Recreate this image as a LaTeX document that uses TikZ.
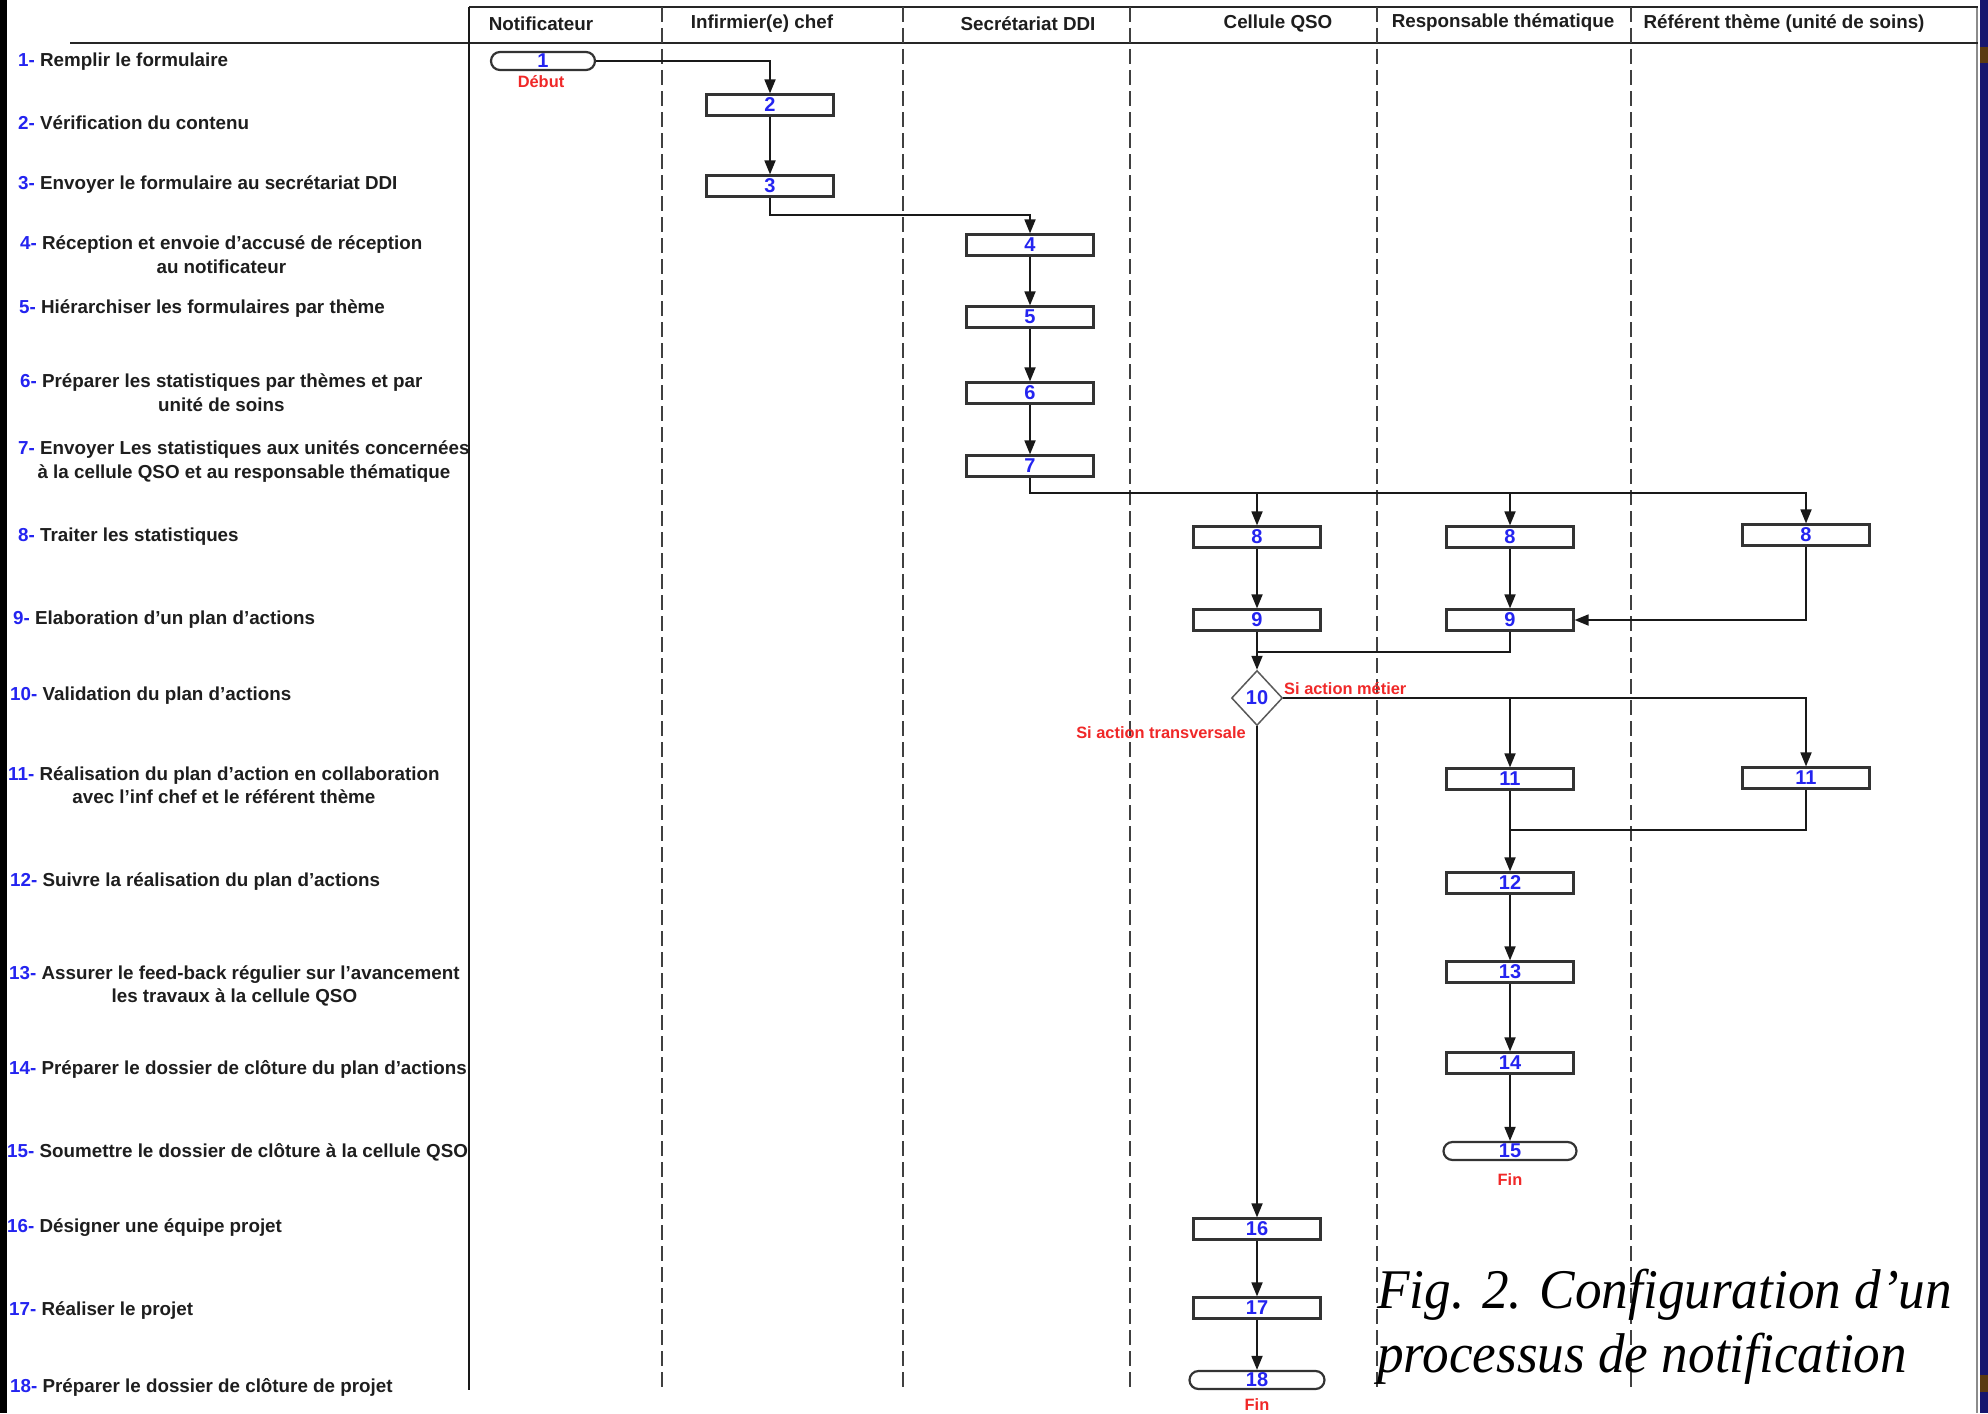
\documentclass[tikz,border=0pt]{standalone}
\usepackage{fontspec}
\newfontfamily\arialfont{Liberation Sans}
\newfontfamily\timesfont{Liberation Serif}[FakeStretch=0.95]
\usetikzlibrary{arrows.meta,shapes.geometric}
\definecolor{numblue}{HTML}{2424F0}
\definecolor{txtdark}{HTML}{1E1E1E}
\definecolor{lblred}{HTML}{F02828}
\definecolor{navyband}{HTML}{16166E}
\definecolor{brownbit}{HTML}{5A3A10}
\begin{document}
\begin{tikzpicture}[x=1pt,y=-1pt,
  stepbox/.style={draw=black!80, line width=2.2pt, fill=white, minimum width=127pt, minimum height=21pt, inner sep=0pt,
    font=\arialfont\bfseries\fontsize{20}{20}\selectfont, text=numblue},
  endbox/.style={stepbox, rounded corners=9pt, minimum height=18pt},
  decbox/.style={diamond, draw=black!65, line width=1.5pt, fill=white, minimum width=51pt, minimum height=55pt, inner sep=0pt,
    font=\arialfont\bfseries\fontsize{20}{20}\selectfont, text=numblue},
  conn/.style={draw=black!90, line width=1.8pt},
  arr/.style={conn, -{Triangle[length=14pt,width=11pt]}},
  lane/.style={draw=black!75, line width=1.8pt, dash pattern=on 15pt off 6pt},
  steplabel/.style={anchor=west, inner sep=0pt, align=center,
    font=\arialfont\bfseries\fontsize{18.8}{23.5}\selectfont, text=txtdark},
  lanehead/.style={inner sep=0pt, font=\arialfont\bfseries\fontsize{18.8}{18.8}\selectfont, text=txtdark},
  redlabel/.style={inner sep=0pt, font=\arialfont\bfseries\fontsize{16.4}{16.4}\selectfont, text=lblred},
  caption/.style={inner sep=0pt, anchor=base west, font=\timesfont\itshape\fontsize{56}{64}\selectfont, text=black},
]
\useasboundingbox (0,0) rectangle (1988,1413);
\fill[white] (0,0) rectangle (1988,1413);
% side bands of the screenshot
\fill[black] (0,0) rectangle (7,1413);
\fill[navyband] (1980,0) rectangle (1988,1413);
\fill[brownbit] (1980,47) rectangle (1988,63);
\fill[brownbit] (1980,1375) rectangle (1988,1392);
\draw[black!45, line width=1.2pt] (1977,7) -- (1977,1413);

% swimlane frame
\draw[black!85, line width=2.5pt] (469,7) -- (1978,7);
\draw[black!85, line width=2.5pt] (70,43) -- (1978,43);
\draw[black!90, line width=1.8pt] (469,7) -- (469,1390);
\foreach \xx in {662,903,1130,1377,1631} \draw[lane] (\xx,7) -- (\xx,1390);

% lane headers
\node[lanehead] (h1) at (541,24) {Notificateur};
\node[lanehead] (h2) at (762,24) {Infirmier(e) chef};
\node[lanehead] (h3) at (1028,24) {Secrétariat DDI};
\node[lanehead] (h4) at (1278,24) {Cellule QSO};
\node[lanehead] (h5) at (1503,23) {Responsable thématique};
\node[lanehead] (h6) at (1784,24) {Référent thème (unité de soins)};

% step labels
\node[steplabel] (s1) at (18,62) {\textcolor{numblue}{1-} Remplir le formulaire};
\node[steplabel] (s2) at (18,123) {\textcolor{numblue}{2-} Vérification du contenu};
\node[steplabel] (s3) at (18,185) {\textcolor{numblue}{3-} Envoyer le formulaire au secrétariat DDI};
\node[steplabel] (s4) at (20,254.5) {\textcolor{numblue}{4-} Réception et envoie d’accusé de réception\\au notificateur};
\node[steplabel] (s5) at (19,309) {\textcolor{numblue}{5-} Hiérarchiser les formulaires par thème};
\node[steplabel] (s6) at (20,392.5) {\textcolor{numblue}{6-} Préparer les statistiques par thèmes et par\\unité de soins};
\node[steplabel] (s7) at (18,461.5) {\textcolor{numblue}{7-} Envoyer Les statistiques aux unités concernées\\à la cellule QSO et au responsable thématique};
\node[steplabel] (s8) at (18,537) {\textcolor{numblue}{8-} Traiter les statistiques};
\node[steplabel] (s9) at (13,620) {\textcolor{numblue}{9-} Elaboration d’un plan d’actions};
\node[steplabel] (s10) at (10,696) {\textcolor{numblue}{10-} Validation du plan d’actions};
\node[steplabel] (s11) at (8,785) {\textcolor{numblue}{11-} Réalisation du plan d’action en collaboration\\avec l’inf chef et le référent thème};
\node[steplabel] (s12) at (10,882) {\textcolor{numblue}{12-} Suivre la réalisation du plan d’actions};
\node[steplabel] (s13) at (9,986) {\textcolor{numblue}{13-} Assurer le feed-back régulier sur l’avancement\\les travaux à la cellule QSO};
\node[steplabel] (s14) at (9,1069) {\textcolor{numblue}{14-} Préparer le dossier de clôture du plan d’actions};
\node[steplabel] (s15) at (7,1152) {\textcolor{numblue}{15-} Soumettre le dossier de clôture à la cellule QSO};
\node[steplabel] (s16) at (7,1228) {\textcolor{numblue}{16-} Désigner une équipe projet};
\node[steplabel] (s17) at (9,1311) {\textcolor{numblue}{17-} Réaliser le projet};
\node[steplabel] (s18) at (10,1387) {\textcolor{numblue}{18-} Préparer le dossier de clôture de projet};

% flow nodes
\node[endbox, minimum width=104pt] (n1) at (543,61) {1};
\node[redlabel] (deb) at (541,82) {Début};
\node[stepbox] (n2) at (770,105) {2};
\node[stepbox] (n3) at (770,186) {3};
\node[stepbox] (n4) at (1030,245) {4};
\node[stepbox] (n5) at (1030,317) {5};
\node[stepbox] (n6) at (1030,393) {6};
\node[stepbox] (n7) at (1030,466) {7};
\node[stepbox] (n8a) at (1257,537) {8};
\node[stepbox] (n8b) at (1510,537) {8};
\node[stepbox] (n8c) at (1806,535) {8};
\node[stepbox] (n9a) at (1257,620) {9};
\node[stepbox] (n9b) at (1510,620) {9};
\node[decbox] (n10) at (1257,698) {10};
\node[stepbox] (n11b) at (1510,779) {11};
\node[stepbox] (n11c) at (1806,778) {11};
\node[stepbox] (n12) at (1510,883) {12};
\node[stepbox] (n13) at (1510,972) {13};
\node[stepbox] (n14) at (1510,1063) {14};
\node[endbox, minimum width=133pt] (n15) at (1510,1151) {15};
\node[redlabel] (fin15) at (1510,1180) {Fin};
\node[stepbox] (n16) at (1257,1229) {16};
\node[stepbox] (n17) at (1257,1308) {17};
\node[endbox, minimum width=135pt] (n18) at (1257,1380) {18};
\node[redlabel] (fin18) at (1257,1405) {Fin};

\node[redlabel, anchor=west] (lmetier) at (1284,689) {Si action métier};
\node[redlabel, anchor=east] (ltrans) at (1246,733) {Si action transversale};

% connectors
\draw[arr] (n1.east) -| (n2.north);
\draw[arr] (n2.south) -- (n3.north);
\draw[arr] (n3.south) -- ++(0,17) -| (n4.north);
\draw[arr] (n4.south) -- (n5.north);
\draw[arr] (n5.south) -- (n6.north);
\draw[arr] (n6.south) -- (n7.north);
\draw[arr] (n7.south) -- ++(0,15.5) coordinate (j7) -| (n8c.north);
\draw[arr] (j7 -| n8a.north) -- (n8a.north);
\draw[arr] (j7 -| n8b.north) -- (n8b.north);
\draw[arr] (n8a.south) -- (n9a.north);
\draw[arr] (n8b.south) -- (n9b.north);
\draw[arr] (n8c.south) |- (n9b.east);
\draw[arr] (n9a.south) -- (n10.north);
\draw[conn] (n9b.south) -- ++(0,20.5) coordinate (j9) -- (j9 -| n9a.south);
\draw[arr] (n10.east) -| (n11c.north);
\draw[arr] (n10.east -| n11b.north) -- (n11b.north);
\draw[arr] (n10.south) -- (n16.north);
\draw[arr] (n11b.south) -- (n12.north);
\draw[conn] (n11c.south) -- ++(0,40.5) coordinate (j11) -- (j11 -| n11b.south);
\draw[arr] (n12.south) -- (n13.north);
\draw[arr] (n13.south) -- (n14.north);
\draw[arr] (n14.south) -- (n15.north);
\draw[arr] (n16.south) -- (n17.north);
\draw[arr] (n17.south) -- (n18.north);

% caption
\node[caption] (cap1) at (1377,1308) {Fig. 2. Configuration d’un};
\node[caption] (cap2) at (1377,1372) {processus de notification};
\end{tikzpicture}
\end{document}
